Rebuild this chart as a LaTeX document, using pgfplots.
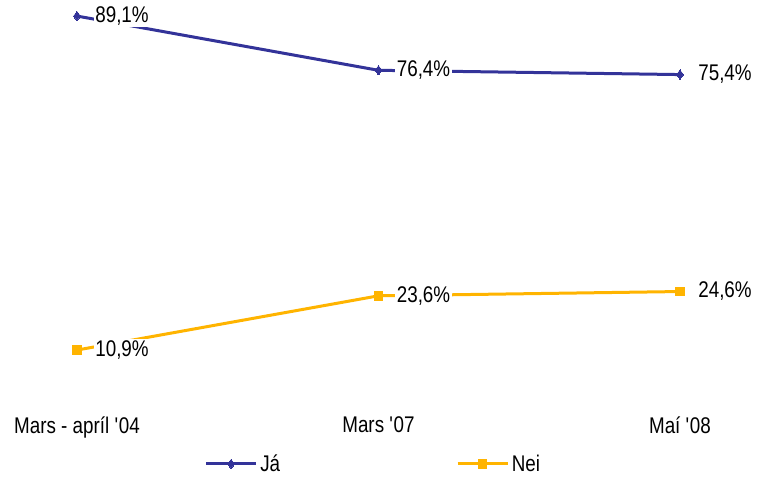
\documentclass[border=0pt]{standalone}
\usepackage{fontspec}
\setmainfont{Liberation Sans}[FakeStretch=0.83]
\usepackage{pgfplots}
\pgfplotsset{compat=1.18}
\definecolor{jablue}{RGB}{51,51,153}
\definecolor{neiyel}{RGB}{255,180,0}

\begin{document}
\begin{tikzpicture}
% 1 px of the reference = 0.75pt; axis origin sits at px (77, 396.6)
\useasboundingbox (-57.75pt,-61.05pt) rectangle (510.75pt,297.45pt);
\begin{axis}[
  at={(0,0)}, anchor=origin,
  scale only axis,
  width=452.25pt, height=294.7pt,
  xmin=0, xmax=2, ymin=0, ymax=92,
  axis line style={draw=none},
  tick style={draw=none},
  clip=false,
  xtick={0,1,2},
  xticklabels={Mars - apríl \textquotesingle04, Mars \textquotesingle07, Maí \textquotesingle08},
  ytick=\empty,
  major tick length=0pt,
  font=\fontsize{17}{20}\selectfont,
  xticklabel style={yshift=-11.5pt},
  point meta=explicit symbolic,
  nodes near coords,
  every node near coord/.append style={anchor=west, xshift=12.75pt,
    fill=white, inner sep=1pt, font=\fontsize{17}{20}\selectfont, text=black},
  legend columns=2,
  legend style={at={(0.492,-0.1715)}, anchor=center, draw=none,
    font=\fontsize{17}{20}\selectfont,
    /tikz/every even column/.append style={column sep=130pt}},
  legend image code/.code={%
    \draw[mark repeat=2, mark phase=2] plot coordinates {(0pt,0pt) (18.75pt,0pt) (37.5pt,0pt)};},
]
\addplot[color=jablue, line width=2.25pt, mark=diamond*, mark size=3.5pt,
  mark options={solid, line width=0pt}] coordinates {
  (0,89.1) [89,1\%]
  (1,76.4) [76,4\%]
  (2,75.4) [75,4\%]
};
\addlegendentry{Já}
\addplot[color=neiyel, line width=2.25pt, mark=square*, mark size=3.2pt,
  mark options={solid, line width=0pt}] coordinates {
  (0,10.9) [10,9\%]
  (1,23.6) [23,6\%]
  (2,24.6) [24,6\%]
};
\addlegendentry{Nei}
\end{axis}
\end{tikzpicture}
\end{document}
